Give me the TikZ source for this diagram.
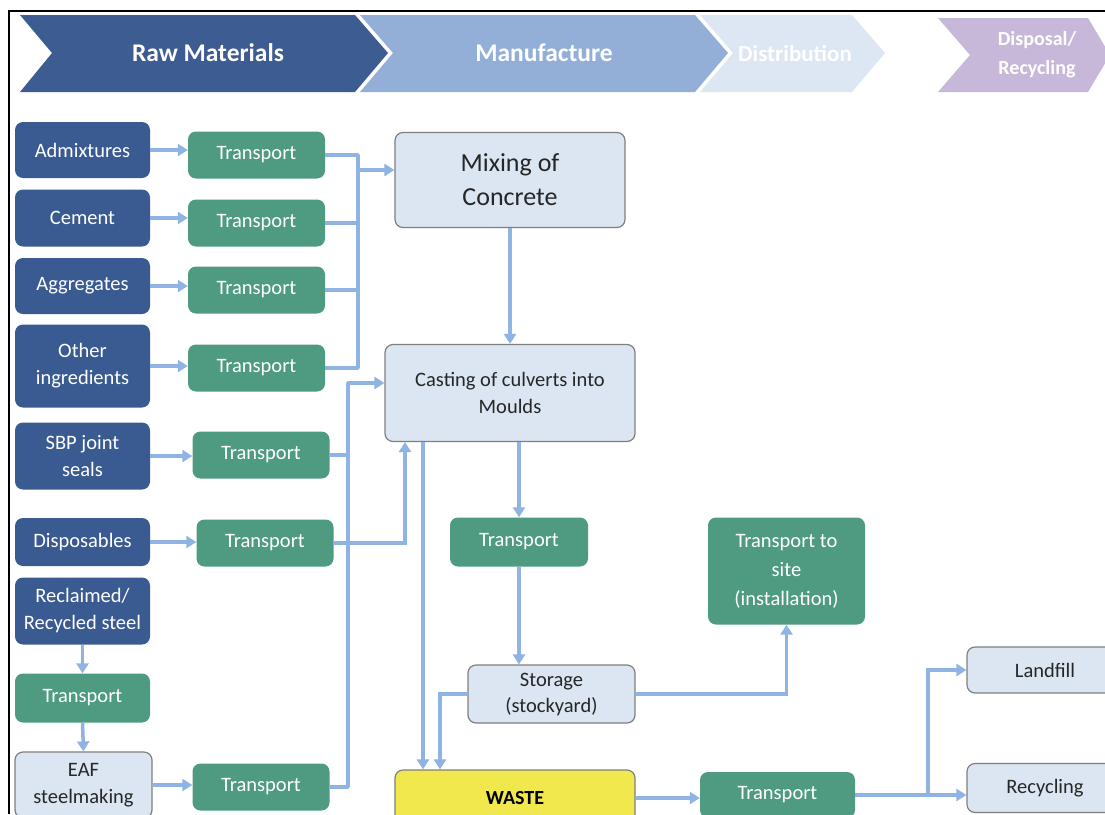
\documentclass[tikz,border=0pt]{standalone}
\usepackage{fontspec}
\setmainfont{Carlito}
\usetikzlibrary{arrows.meta}
\definecolor{rawblue}{HTML}{3D5C91}
\definecolor{dblue}{HTML}{3A5B92}
\definecolor{manuf}{HTML}{93AFD8}
\definecolor{distr}{HTML}{DDE7F3}
\definecolor{dispo}{HTML}{C7B8DA}
\definecolor{green1}{HTML}{4E9B82}
\definecolor{lbox}{HTML}{DCE6F2}
\definecolor{bordc}{HTML}{7F7F7F}
\definecolor{arrowc}{HTML}{8FB3E3}
\definecolor{yell}{HTML}{F0E84C}
\definecolor{txtc}{HTML}{262626}
\begin{document}
\begin{tikzpicture}[x=1pt,y=-1pt,
 ln/.style={draw=arrowc, line width=3.5pt},
 arr/.style={ln, -{Triangle[width=12pt,length=10pt]}},
 base/.style={rounded corners=8pt, align=center, inner sep=0pt, font=\fontsize{20.5}{27}\selectfont},
 blu/.style={base, fill=dblue, text=white, minimum width=135pt},
 grn/.style={base, fill=green1, text=white, minimum width=137pt, minimum height=47pt},
 lgt/.style={base, fill=lbox, draw=bordc, line width=1.2pt, text=txtc},
 chev/.style={font=\fontsize{25.5}{27}\selectfont\bfseries, text=white, align=center}
]
\clip (0,0) rectangle (1105,814);
\fill[white] (0,0) rectangle (1105,814);

% chevrons
\fill[rawblue] (20,15) -- (355,15) -- (388,53) -- (355,92) -- (20,92) -- (52,53) -- cycle;
\fill[manuf] (360,15) -- (695,15) -- (728,53) -- (695,92) -- (360,92) -- (393,53) -- cycle;
\fill[distr] (700,15) -- (852,15) -- (885,53) -- (852,92) -- (700,92) -- (733,53) -- cycle;
\fill[dispo] (938,18) -- (1088,18) -- (1110,55) -- (1088,92) -- (938,92) -- (970,55) -- cycle;
\node[chev] (hraw) at (208,53) {Raw Materials};
\node[chev] (hman) at (544,53) {Manufacture};
\node[chev, font=\fontsize{23}{27}\selectfont\bfseries] (hdis) at (795,53) {Distribution};
\node[chev, font=\fontsize{20}{29}\selectfont\bfseries] (hdsp) at (1037,55) {Disposal/\\Recycling};

% frame
\draw[black, line width=2pt] (1105,11) -- (9,11) -- (9,814);

% raw material boxes
\node[blu, minimum height=56pt] (adm) at (82.5,150) {Admixtures};
\node[blu, minimum height=57pt] (cem) at (82.5,218) {Cement};
\node[blu, minimum height=56pt] (agg) at (82.5,286) {Aggregates};
\node[blu, minimum height=83pt] (oth) at (82.5,366) {Other\\ingredients};
\node[blu, minimum height=67pt] (sbp) at (82.5,456) {SBP joint\\seals};
\node[blu, minimum height=48pt] (dis) at (82.5,542) {Disposables};
\node[blu, minimum height=67pt] (rec) at (82.5,611) {Reclaimed/\\Recycled steel};
\node[grn, minimum width=135pt, minimum height=49pt] (tl) at (82.5,698) {Transport};
\node[lgt, minimum width=137pt, minimum height=66pt] (eaf) at (83.5,785) {EAF\\steelmaking};

% transport column
\node[grn] (t1) at (256.5,155) {Transport};
\node[grn] (t2) at (256.5,223) {Transport};
\node[grn] (t3) at (256.5,290) {Transport};
\node[grn] (t4) at (256.5,368) {Transport};
\node[grn] (t5) at (261,455) {Transport};
\node[grn] (t6) at (265,543) {Transport};
\node[grn] (t7) at (261,787) {Transport};

% manufacture
\node[lgt, minimum width=230pt, minimum height=95pt, font=\fontsize{26}{34}\selectfont] (mix) at (510,180) {Mixing of\\Concrete};
\node[lgt, minimum width=250pt, minimum height=97pt] (cast) at (510,393) {Casting of culverts into\\Moulds};
\node[grn, minimum width=138pt, minimum height=49pt] (tm) at (519,542) {Transport};
\node[grn, minimum width=157pt, minimum height=107pt, font=\fontsize{20.5}{29}\selectfont] (site) at (786.5,571) {Transport to\\site\\(installation)};
\node[lgt, minimum width=167pt, minimum height=58pt, font=\fontsize{20.5}{26}\selectfont] (stor) at (551.5,694) {Storage\\(stockyard)};
\node[base, fill=yell, draw=bordc, line width=1.2pt, minimum width=240pt, minimum height=56pt, font=\fontsize{20}{27}\selectfont\bfseries] (waste) at (515,798) {WASTE};
\node[grn, minimum width=155pt, minimum height=46pt] (t8) at (777.5,795) {Transport};
\node[lgt, minimum width=156pt, minimum height=46pt] (land) at (1045,670) {Landfill};
\node[lgt, minimum width=156pt, minimum height=49pt] (recy) at (1045,788) {Recycling};

% connectors: raw -> transport
\draw[arr] (adm.east) -- (adm.east -| t1.west);
\draw[arr] (cem.east) -- (cem.east -| t2.west);
\draw[arr] (agg.east) -- (agg.east -| t3.west);
\draw[arr] (oth.east) -- (oth.east -| t4.west);
\draw[arr] (sbp.east) -- (sbp.east -| t5.west);
\draw[arr] (dis.east) -- (dis.east -| t6.west);
\draw[arr] (eaf.east) -- (eaf.east -| t7.west);
\draw[arr] (rec.south) -- (tl.north);
\draw[arr] (tl.south) -- (eaf.north);

% bus 1 to mixing
\coordinate (b1) at (358,170);
\draw[ln, line join=round] (t1.east) -| (b1 |- t4.east) -- (t4.east);
\draw[ln] (t2.east) -- (t2.east -| b1);
\draw[ln] (t3.east) -- (t3.east -| b1);
\draw[arr] (b1) -- (b1 -| mix.west);

% bus 2 to casting
\coordinate (b2) at (348,383);
\draw[arr, line join=round] (t7.east) -| (b2) -- (b2 -| cast.west);
\draw[ln] (t5.east) -- (t5.east -| b2);
\coordinate (b3) at (405,0);
\draw[arr] (t6.east) -| (b3 |- cast.south);

% manufacture flow
\draw[arr] (mix.south) -- (cast.north);
\draw[arr] (tm.north |- cast.south) -- (tm.north);
\draw[arr] (tm.south) -- (tm.south |- stor.north);
\draw[arr] (stor.east) -| (site.south);
\coordinate (b4) at (423,0);
\draw[arr] (b4 |- cast.south) -- (b4 |- waste.north);
\coordinate (b5) at (440,0);
\draw[arr] (stor.west) -| (b5 |- waste.north);

% disposal
\draw[arr] (waste.east) -- (waste.east -| t8.west);
\coordinate (b6) at (928,0);
\draw[arr] (t8.east) -- (t8.east -| recy.west);
\draw[arr] (t8.east -| b6) |- (land.west);
\end{tikzpicture}
\end{document}
